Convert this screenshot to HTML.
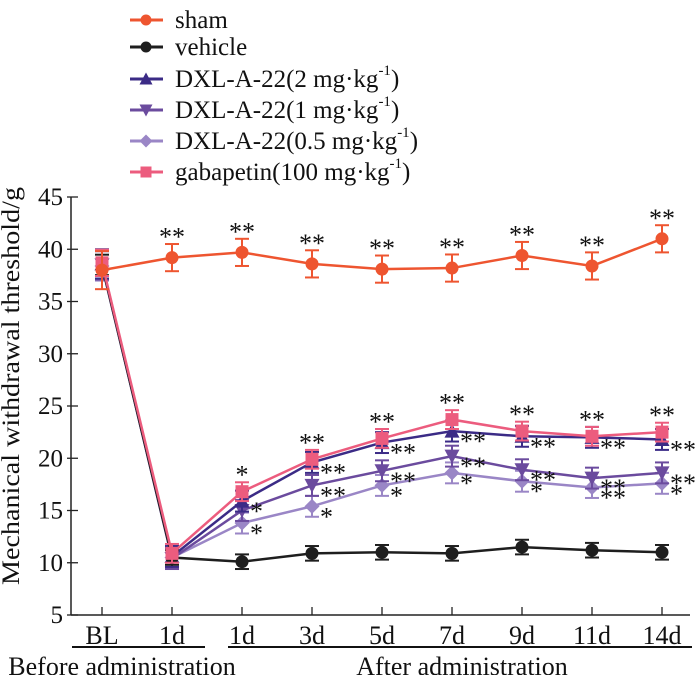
<!DOCTYPE html>
<html><head><meta charset="utf-8">
<style>
body{margin:0;background:#fff;}
svg{display:block;font-family:"Liberation Serif",serif;}
</style></head>
<body>
<svg id="chart" width="700" height="675" viewBox="0 0 700 675"></svg>
<script>
const categories=["BL","1d","1d","3d","5d","7d","9d","11d","14d"];
const yTicks=[5,10,15,20,25,30,35,40,45];
const shamVals=[38,39.2,39.7,38.6,38.1,38.2,39.4,38.4,41];
const vehicleVals=[38.5,10.5,10.1,10.9,11,10.9,11.5,11.2,11];
const dxl2Vals=[38.6,10.6,15.9,19.6,21.5,22.6,22.1,22,21.8];
const dxl1Vals=[38.5,10.4,15,17.4,18.8,20.2,18.9,18.1,18.6];
const dxl05Vals=[38.4,10.5,13.8,15.4,17.4,18.6,17.8,17.2,17.6];
const gabaVals=[38.7,10.9,16.8,19.9,21.9,23.7,22.6,22.1,22.5];
const seriesNames=["sham","vehicle","DXL-A-22(2 mg·kg","DXL-A-22(1 mg·kg","DXL-A-22(0.5 mg·kg","gabapetin(100 mg·kg"];
const errSizes=[1.3,0.7,1.0,1.0,1.0,0.9];
const starsSham=["","**","**","**","**","**","**","**","**"];

const NS="http://www.w3.org/2000/svg";
const svg=document.getElementById('chart');
function el(t,a,p){const e=document.createElementNS(NS,t);for(const k in a)e.setAttribute(k,a[k]);(p||svg).appendChild(e);return e;}
const X0=102,DX=70,AX=71,AY=615;
const xs=i=>X0+i*DX;
const ys=v=>AY-(v-5)*10.45;

let a=el('line',{x1:AX,y1:197,x2:AX,y2:AY,stroke:'#222','stroke-width':1.5});

a=el('line',{x1:AX,y1:AY,x2:690,y2:AY,stroke:'#222','stroke-width':1.5});

yTicks.forEach(v=>{
  el('line',{x1:AX-4,y1:ys(v),x2:AX+7,y2:ys(v),stroke:'#222','stroke-width':1.3});
  const t=el('text',{x:AX-8,y:ys(v)+8,'text-anchor':'end','font-size':25,fill:'#111'});
  t.textContent=v;
  
});
categories.forEach((c,i)=>{
  el('line',{x1:xs(i),y1:AY,x2:xs(i),y2:AY-8,stroke:'#222','stroke-width':1.3});
  const t=el('text',{x:xs(i),y:AY+29,'text-anchor':'middle','font-size':26,fill:'#111'});
  t.textContent=c;
  
});
el('line',{x1:72,y1:647,x2:205,y2:647,stroke:'#111','stroke-width':2});
el('line',{x1:228,y1:647,x2:692,y2:647,stroke:'#111','stroke-width':2});
let t=el('text',{x:122,y:675,'text-anchor':'middle','font-size':26,fill:'#111'});t.textContent="Before administration";

t=el('text',{x:462,y:675,'text-anchor':'middle','font-size':26,fill:'#111'});t.textContent="After administration";

t=el('text',{x:0,y:0,'text-anchor':'middle','font-size':25,fill:'#111',textLength:398,lengthAdjust:'spacingAndGlyphs',transform:'translate(19,386) rotate(-90)'});t.textContent="Mechanical withdrawal threshold/g";


const allVals=[shamVals,vehicleVals,dxl2Vals,dxl1Vals,dxl05Vals,gabaVals];
const colors=['#ee5530','#1e1e1e','#3b2b86','#6b4b9e','#9a86c6','#ec5c7e'];
const shapes=['circle','circle','tri','tri-down','diamond','square'];
function marker(g,s,x,y,c,r){
  if(s==='circle')el('circle',{cx:x,cy:y,r:r,fill:c},g);
  else if(s==='tri')el('polygon',{points:`${x},${y-r-1} ${x-r-1},${y+r} ${x+r+1},${y+r}`,fill:c},g);
  else if(s==='tri-down')el('polygon',{points:`${x},${y+r+1} ${x-r-1},${y-r} ${x+r+1},${y-r}`,fill:c},g);
  else if(s==='diamond')el('polygon',{points:`${x},${y-r-1} ${x+r+1},${y} ${x},${y+r+1} ${x-r-1},${y}`,fill:c},g);
  else el('rect',{x:x-r,y:y-r,width:2*r,height:2*r,fill:c},g);
}
const order=[4,3,2,1,5,0];
order.forEach(si=>{
  const vals=allVals[si],c=colors[si];
  const g=el('g',{});
  
  
  el('polyline',{points:vals.map((v,i)=>xs(i)+','+ys(v)).join(' '),fill:'none',stroke:c,'stroke-width':2.5},g);
  vals.forEach((v,i)=>{
    const e=errSizes[si]*10.45*(i===0?1.4:1);
    el('line',{x1:xs(i),y1:ys(v)-e,x2:xs(i),y2:ys(v)+e,stroke:c,'stroke-width':2},g);
    el('line',{x1:xs(i)-7,y1:ys(v)-e,x2:xs(i)+7,y2:ys(v)-e,stroke:c,'stroke-width':2},g);
    el('line',{x1:xs(i)-7,y1:ys(v)+e,x2:xs(i)+7,y2:ys(v)+e,stroke:c,'stroke-width':2},g);
    marker(g,shapes[si],xs(i),ys(v),c,6.5);
  });
});
function star(x,y,s,anchor){const t=el('text',{x:x,y:y,'text-anchor':anchor||'middle','font-size':26,fill:'#111'});t.textContent=s;
}
starsSham.forEach((s,i)=>{if(s)star(xs(i),ys(shamVals[i])-12,s);});
for(let i=2;i<9;i++){
  star(xs(i),ys(gabaVals[i])-8,i===2?'*':'**');
  star(xs(i)+8,ys(dxl2Vals[i])+19,i===2?'*':'**','start');
  star(xs(i)+8,ys(dxl1Vals[i])+19,(i===2)?'':'**','start');
  star(xs(i)+8,ys(dxl05Vals[i])+19,(i===7)?'**':'*','start');
}
const lg=el('g',{});

const ly=[20,47,79,110,141,172];
seriesNames.forEach((n,si)=>{
  const g=el('g',{},lg);
  
  el('line',{x1:130,y1:ly[si],x2:163,y2:ly[si],stroke:colors[si],'stroke-width':3},g);
  marker(g,shapes[si],146,ly[si],colors[si],5.5);
  const t=el('text',{x:175,y:ly[si]+8,'font-size':25,fill:'#111'},g);
  t.textContent=n;
  if(si>=2){
    const s=el('tspan',{dy:-12,'font-size':15},t);s.textContent='-1';
    const s2=el('tspan',{dy:12,'font-size':25},t);s2.textContent=')';
  }
});
</script>
</body></html>
